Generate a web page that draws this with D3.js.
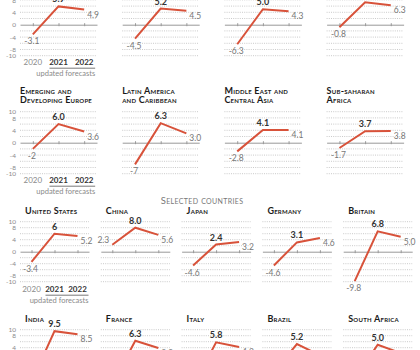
<!DOCTYPE html>
<html>
<head>
<meta charset="utf-8">
<script src="https://cdn.jsdelivr.net/npm/d3@7"></script>
<style>
  body { margin: 0; background: #fff; }
  svg { display: block; font-family: Lato, "Open Sans", sans-serif; }
</style>
</head>
<body>
<svg id="chart" width="420" height="350"></svg>
<script>
const years = ['2020', '2021', '2022']
const yTicks = [10, 8, 4, 0, -4, -8, -10]
const gridLevels = [-10, -8, -6, -4, -2, 2, 4, 6, 8, 10]

// regions, IMF growth %, printed as on the chart (top row titles fall above the frame)
const regionNames = [
  [], [], [], [],
  ['Emerging and', 'Developing Europe'], ['Latin America', 'and Caribbean'],
  ['Middle East and', 'Central Asia'], ['Sub-saharan', 'Africa']
]
const regionValues = [
  ['-3.1', '5.9', '4.9'], ['-4.5', '5.2', '4.5'], ['-6.3', '5.0', '4.3'], ['-0.8', '7.2', '6.3'],
  ['-2', '6.0', '3.6'], ['-7', '6.3', '3.0'], ['-2.8', '4.1', '4.1'], ['-1.7', '3.7', '3.8']
]

const countryNames = [
  'United States', 'China', 'Japan', 'Germany', 'Britain',
  'India', 'France', 'Italy', 'Brazil', 'South Africa'
]
const countryValues = [
  ['-3.4', '6', '5.2'], ['2.3', '8.0', '5.6'], ['-4.6', '2.4', '3.2'], ['-4.6', '3.1', '4.6'], ['-9.8', '6.8', '5.0'],
  ['-7.3', '9.5', '8.5'], ['-8.0', '6.3', '3.9'], ['-8.9', '5.8', '4.2'], ['-4.1', '5.2', '1.5'], ['-6.4', '5.0', '2.2']
]

const svg = d3.select('#chart')
const red = '#d8523a'

function panel(x0, w, zero, unit, title, vals, first, titleIndent) {
  const g = svg.append('g')
  const x = d3.scalePoint().domain(years).range([x0, x0 + w]).padding(0.5)
  const y = d3.scaleLinear().domain([-10, 10]).range([zero + 10 * unit, zero - 10 * unit])

  // title
  const lines = title.length
  g.selectAll('text.title').data(title).join('text')
    .attr('class', 'title')
    .attr('x', x0 + titleIndent)
    .attr('y', (d, i) => zero - (lines === 2 ? 49 : 37.5) + i * 9.5)
    .attr('font-size', 9)
    .attr('font-weight', 'bold')
    .attr('letter-spacing', 0.25)
    .style('font-variant', 'small-caps')
    .attr('fill', '#1a1a1a')
    .text(d => d)

  // dotted grid
  g.selectAll('line.grid').data(gridLevels).join('line')
    .attr('class', 'grid')
    .attr('x1', x0).attr('x2', x0 + w)
    .attr('y1', d => y(d)).attr('y2', d => y(d))
    .attr('stroke', '#bdbdbd').attr('stroke-width', 0.8)
    .attr('stroke-dasharray', '1,1.2')

  // zero line with year ticks
  const axis = g.append('g')
    .attr('transform', 'translate(0,' + (y(0) - 1.5) + ')')
    .call(d3.axisBottom(x).tickSizeInner(3).tickSizeOuter(0).tickFormat(''))
  axis.select('.domain').attr('transform', 'translate(0,1.5)').attr('stroke', '#999')
  axis.selectAll('.tick line').attr('stroke', '#999')

  if (first) {
    const ya = g.append('g')
      .attr('transform', 'translate(' + (x0 - 4) + ',0)')
      .call(d3.axisLeft(y).tickValues(yTicks).tickSize(0).tickFormat(d => String(d)))
    ya.select('.domain').remove()
    ya.selectAll('text').attr('fill', '#8a8a8a').attr('font-size', 6.5)
      .attr('font-family', 'Lato, sans-serif').attr('x', 0).attr('dy', '0.35em')

    g.selectAll('text.year').data(years).join('text')
      .attr('class', 'year')
      .attr('x', d => x(d)).attr('y', zero + 40)
      .attr('text-anchor', 'middle')
      .attr('font-size', 8)
      .attr('font-weight', (d, i) => i === 0 ? 'normal' : 'bold')
      .attr('fill', (d, i) => i === 0 ? '#8a8a8a' : '#333')
      .text(d => d)
    g.append('line')
      .attr('x1', x('2021') - 9).attr('x2', x('2022') + 11)
      .attr('y1', zero + 43.5).attr('y2', zero + 43.5)
      .attr('stroke', '#555').attr('stroke-width', 0.8)
    g.append('text')
      .attr('x', x('2022') + 11).attr('y', zero + 51)
      .attr('text-anchor', 'end')
      .attr('font-size', 7.5)
      .attr('fill', '#8a8a8a')
      .text('updated forecasts')
  }

  const pts = years.map((yr, i) => ({ year: yr, v: +vals[i], label: vals[i] }))

  g.append('path')
    .datum(pts)
    .attr('fill', 'none')
    .attr('stroke', red)
    .attr('stroke-width', 2)
    .attr('d', d3.line().x(d => x(d.year)).y(d => y(d.v)))

  // value labels
  const a = pts[0], b = pts[1], c = pts[2]
  g.append('text')
    .attr('x', a.v < 0 ? x(a.year) - 1 : x(a.year) - 3)
    .attr('y', a.v < 0 ? y(a.v) + 10 : y(a.v) - 2)
    .attr('text-anchor', a.v < 0 ? 'middle' : 'end')
    .attr('font-size', 8.5).attr('fill', '#777')
    .text(a.label)
  g.append('text')
    .attr('x', x(b.year)).attr('y', y(b.v) - 4)
    .attr('text-anchor', 'middle')
    .attr('font-size', 9).attr('font-weight', 'bold').attr('fill', '#333')
    .text(b.label)
  g.append('text')
    .attr('x', x(c.year) + 3).attr('y', y(c.v) + 8)
    .attr('text-anchor', 'start')
    .attr('font-size', 8.5).attr('fill', '#777')
    .text(c.label)
}

// regions: 4 columns, 2 rows
regionNames.forEach((name, i) => {
  const col = i % 4, row = Math.floor(i / 4)
  panel(20 + col * 102.2, 77, 24.7 + row * 118, 3.1, name, regionValues[i], col === 0, 0)
})

svg.append('text')
  .attr('x', 202).attr('y', 203.5)
  .attr('text-anchor', 'middle')
  .attr('font-size', 9.5)
  .attr('letter-spacing', 0.35)
  .style('font-variant', 'small-caps')
  .attr('fill', '#777')
  .text('Selected countries')

// countries: 5 columns, 2 rows
countryNames.forEach((name, i) => {
  const col = i % 5, row = Math.floor(i / 5)
  panel(20 + col * 80.8, 69, 251.7 + row * 108, 3, [name], countryValues[i], col === 0, 5)
})
</script>
</body>
</html>
